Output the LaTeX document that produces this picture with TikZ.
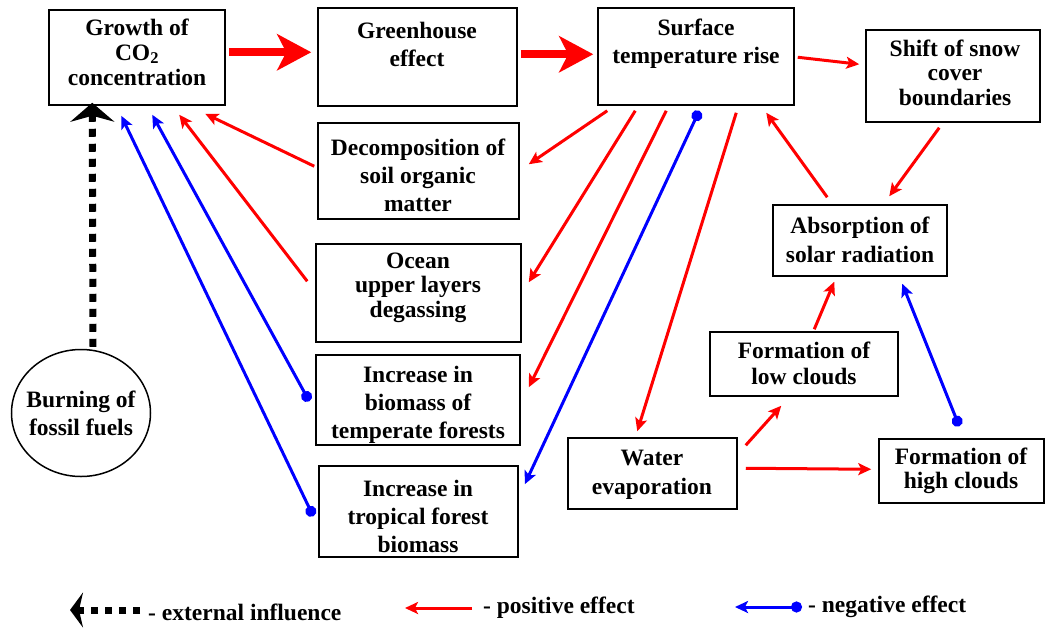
\documentclass[tikz,border=0pt]{standalone}
\usepackage{fontspec}
\setmainfont{Liberation Serif}
\usetikzlibrary{arrows.meta,calc,shapes.geometric}
\begin{document}
\begin{tikzpicture}[x=1pt,y=-1pt,
 box/.style={draw=black,line width=1.5pt,fill=white,inner sep=0pt},
 txt/.style={align=center,inner sep=0pt,font=\fontsize{23.5}{27}\selectfont\bfseries},
 posarr/.style={draw=red,line width=3pt,-{Stealth[length=13pt,width=12pt,inset=3pt]}},
 negarr/.style={draw=blue,line width=3pt,{Circle[length=11pt]}-{Stealth[length=13pt,width=12pt,inset=3pt]}},
 bigarr/.style={draw=red,line width=8pt,-{Stealth[length=34pt,width=36pt,inset=9pt]}},
 extarr/.style={draw=black,line width=7pt,dash pattern=on 8pt off 7pt,-{Stealth[length=19pt,width=44pt,inset=6pt]}},
 extleg/.style={draw=black,line width=7pt,dash pattern=on 7pt off 7pt,-{Stealth[length=13pt,width=35pt,inset=4pt]}}]
\useasboundingbox (0,0) rectangle (1046,630);
% boxes
\node[box,minimum width=176pt,minimum height=95pt] (G) at (137,57.5) {};
\node[box,minimum width=199pt,minimum height=98pt] (GH) at (417.5,57) {};
\node[box,minimum width=196pt,minimum height=97pt] (S) at (696,56.5) {};
\node[box,minimum width=174pt,minimum height=92pt] (SN) at (953,76) {};
\node[box,minimum width=201pt,minimum height=96pt] (D) at (418.5,171) {};
\node[box,minimum width=205pt,minimum height=98pt] (O) at (418.5,293) {};
\node[box,minimum width=204pt,minimum height=90pt] (T) at (418,400) {};
\node[box,minimum width=199pt,minimum height=91pt] (TR) at (418.5,511.5) {};
\node[box,minimum width=174pt,minimum height=71pt] (A) at (860,240.5) {};
\node[box,minimum width=188pt,minimum height=64pt] (L) at (804,364) {};
\node[box,minimum width=169pt,minimum height=71pt] (W) at (652.5,473.5) {};
\node[box,minimum width=165pt,minimum height=64pt] (H) at (961.5,471) {};
\node[box,ellipse,minimum width=139pt,minimum height=127pt] (E) at (81,413) {};
% texts
\node[txt,font=\fontsize{23.5}{25}\selectfont\bfseries] (tG) at (137,52) {Growth of\\CO\textsubscript{2}\\concentration};
\node[txt,font=\fontsize{23.5}{28}\selectfont\bfseries] (tGH) at (417,44) {Greenhouse\\effect};
\node[txt,font=\fontsize{23.5}{28}\selectfont\bfseries] (tS) at (696,44) {Surface\\temperature rise};
\node[txt,font=\fontsize{23.5}{24.5}\selectfont\bfseries] (tSN) at (955,72.5) {Shift of snow\\cover\\boundaries};
\node[txt,font=\fontsize{23.5}{28}\selectfont\bfseries] (tD) at (418,175) {Decomposition of\\soil organic\\matter};
\node[txt,font=\fontsize{23.5}{24.5}\selectfont\bfseries] (tO) at (418,287.5) {Ocean\\upper layers\\degassing};
\node[txt,font=\fontsize{23.5}{28}\selectfont\bfseries] (tT) at (418,405) {Increase in\\biomass of\\temperate forests};
\node[txt,font=\fontsize{23.5}{28}\selectfont\bfseries] (tTR) at (418,516) {Increase in\\tropical forest\\biomass};
\node[txt,font=\fontsize{23.5}{29}\selectfont\bfseries] (tA) at (860,239.5) {Absorption of\\solar radiation};
\node[txt,font=\fontsize{23.5}{26}\selectfont\bfseries] (tL) at (804,363) {Formation of\\low clouds};
\node[txt,font=\fontsize{23.5}{29}\selectfont\bfseries] (tW) at (652,474.5) {Water\\evaporation};
\node[txt,font=\fontsize{23.5}{24}\selectfont\bfseries] (tH) at (961,471) {Formation of\\high clouds};
\node[txt,font=\fontsize{23.5}{28}\selectfont\bfseries] (tE) at (81,413) {Burning of\\fossil fuels};
% big arrows
\draw[bigarr] ($(G.north east)+(3,43)$) -- ($(GH.north west)+(-6,45)$);
\draw[bigarr] ($(GH.north east)+(3,47)$) -- ($(S.north west)+(-4,47)$);
% positive effects
\draw[posarr] ($(S.north east)+(3,50)$) -- ($(SN.north west)+(-6,35)$);
\draw[posarr] ($(SN.south west)+(74,5)$) -- ($(A.north west)+(117,-8)$);
\draw[posarr] ($(A.north west)+(55,-7)$) -- ($(S.south west)+(169,7)$);
\draw[posarr] ($(S.south west)+(10,5)$) -- ($(D.north east)+(9,42)$);
\draw[posarr] ($(S.south west)+(38,5)$) -- ($(O.north east)+(7,39)$);
\draw[posarr] ($(S.south west)+(69,5)$) -- ($(T.north east)+(8,33)$);
\draw[posarr] ($(S.south west)+(139,7)$) -- ($(W.north west)+(70,-6)$);
\draw[posarr] ($(L.north west)+(105,-2)$) -- ($(A.south west)+(62,5)$);
\draw[posarr] ($(W.north east)+(8,8)$) -- ($(L.south west)+(72,9)$);
\draw[posarr] ($(W.north east)+(8,31)$) -- ($(H.north west)+(-7,31)$);
\draw[posarr] ($(D.north west)+(-3,44)$) -- ($(G.south west)+(157,8)$);
\draw[posarr] ($(O.north west)+(-8,38)$) -- ($(G.south west)+(131,9)$);
% negative effects
\draw[negarr] ($(S.south west)+(102,5)$) -- ($(TR.north east)+(6,19)$);
\draw[negarr] ($(H.north west)+(81,-12)$) -- ($(A.south west)+(130,7)$);
\draw[negarr] ($(T.north west)+(-6,47)$) -- ($(G.south west)+(104,9)$);
\draw[negarr] ($(TR.north west)+(-5,51)$) -- ($(G.south west)+(73,10)$);
% external influence
\draw[extarr] ($(E.north)+(12,-2)$) -- ($(G.south west)+(44,-3)$);
% legend
\node[txt,anchor=west] (l1) at (148,612) {- external influence};
\node[txt,anchor=west] (l2) at (483,608) {- positive effect};
\node[txt,anchor=west] (l3) at (808,607) {- negative effect};
\coordinate (c1) at (70,610);
\coordinate (c2) at (405,608);
\coordinate (c3) at (735,607);
\draw[extleg] ($(l1.west)+(-8,-2)$) -- (c1);
\draw[posarr] ($(l2.west)+(-11,0)$) -- (c2);
\draw[negarr] ($(l3.west)+(-6,0)$) -- (c3);
\end{tikzpicture}
\end{document}
